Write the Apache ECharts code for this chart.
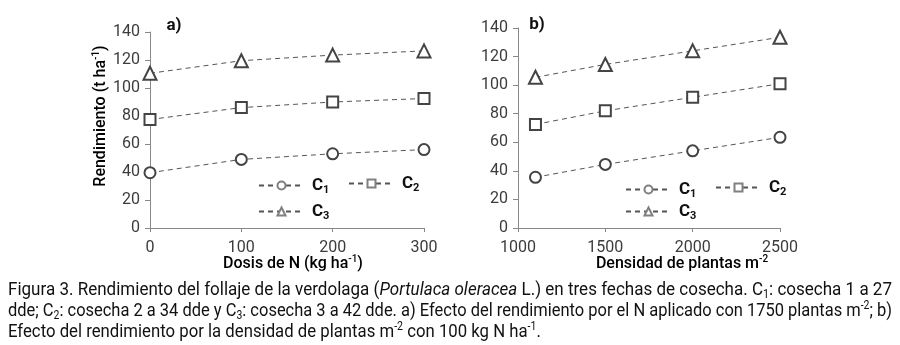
<!DOCTYPE html>
<html>
<head>
<meta charset="utf-8">
<script src="https://cdn.jsdelivr.net/npm/echarts@6/dist/echarts.min.js"></script>
<style>
  html, body { margin: 0; padding: 0; background: #fff; }
  #chart { width: 900px; height: 345px; }
</style>
</head>
<body>
<div id="chart"></div>
<script>
// datos
const doseN = [0, 100, 200, 300]
const aC1 = [39.5, 49, 53, 56]
const aC2 = [77.5, 86, 90, 92.5]
const aC3 = [110.5, 119.5, 123.5, 126.5]

const density = [1100, 1500, 2000, 2500]
const bC1 = [35.5, 44.5, 54, 63.5]
const bC2 = [72.5, 82, 91.5, 101]
const bC3 = [105.5, 114.5, 124, 133.5]

const seriesNames = ['C1', 'C2', 'C3']
const symbols = ['emptyCircle', 'emptyRect', 'emptyTriangle']
const symbolSizes = [11, 11, 13]

const FONT = 'Roboto'
const chart = echarts.init(document.getElementById('chart'))

function pairs(xs, ys) {
  return xs.map((x, i) => [x, ys[i]])
}

function makeSeries(idx, xs, ys, k) {
  return {
    name: seriesNames[k],
    type: 'line',
    xAxisIndex: idx,
    yAxisIndex: idx,
    data: pairs(xs, ys),
    symbol: symbols[k],
    symbolSize: symbolSizes[k],
    showSymbol: true,
    silent: true,
    lineStyle: { color: '#555', width: 1, type: [5, 4] },
    itemStyle: { color: '#444', borderColor: '#444', borderWidth: 1 }
  }
}

function yAxis(idx) {
  return {
    type: 'value',
    gridIndex: idx,
    min: 0,
    max: 140,
    interval: 20,
    axisLine: { show: true, lineStyle: { color: '#888' } },
    axisTick: { show: true, length: 5, lineStyle: { color: '#888' } },
    splitLine: { show: false },
    axisLabel: { color: '#3c3c3c', fontFamily: FONT, fontSize: 16, margin: 10 }
  }
}

function xAxis(idx, min, max, interval) {
  return {
    type: 'value',
    gridIndex: idx,
    min: min,
    max: max,
    interval: interval,
    axisLine: { show: true, lineStyle: { color: '#888' } },
    axisTick: { show: true, length: 4, lineStyle: { color: '#888' } },
    splitLine: { show: false },
    axisLabel: { color: '#3c3c3c', fontFamily: FONT, fontSize: 16, margin: 12, formatter: (v) => String(v) }
  }
}

const legendRich = {
  c: { fontFamily: FONT, fontSize: 17, fontWeight: 'bold', color: '#111', lineHeight: 20 },
  s: { fontFamily: FONT, fontSize: 11, fontWeight: 'bold', color: '#111', verticalAlign: 'bottom', lineHeight: 12 }
}

function legendItem(name, left, top) {
  return {
    data: [name],
    left: left,
    top: top,
    itemWidth: 45,
    itemHeight: 10,
    itemGap: 0,
    selectedMode: false,
    // el icono vacio toma este color como borde
    itemStyle: { color: '#808080' },
    formatter: (n) => '{c|C}{s|' + n.slice(1) + '}',
    textStyle: { rich: legendRich, padding: [0, 0, 0, 3] }
  }
}

// leyenda interior (posiciones de la figura)
const legends = [
  legendItem('C1', 253, 172),
  legendItem('C2', 343, 170),
  legendItem('C3', 253, 198),
  legendItem('C1', 620, 176),
  legendItem('C2', 710, 174),
  legendItem('C3', 620, 198)
]

const captionRich = {
  i: { fontFamily: FONT, fontSize: 19, fontStyle: 'italic', color: '#111', lineHeight: 22 },
  sub: { fontFamily: FONT, fontSize: 12, color: '#111', verticalAlign: 'bottom', lineHeight: 12 },
  sup: { fontFamily: FONT, fontSize: 12, color: '#111', verticalAlign: 'top', lineHeight: 12 }
}
const captionLines = [
  'Figura 3. Rendimiento del follaje de la verdolaga ({i|Portulaca oleracea} L.) en tres fechas de cosecha. C{sub|1}: cosecha 1 a 27',
  'dde; C{sub|2}: cosecha 2 a 34 dde y C{sub|3}: cosecha 3 a 42 dde. a) Efecto del rendimiento por el N aplicado con 1750 plantas m{sup|-2}; b)',
  'Efecto del rendimiento por la densidad de plantas m{sup|-2} con 100 kg N ha{sup|-1}.'
]

function textWidth(text, size, weight, rich) {
  const t = new echarts.graphic.Text({
    style: { text: text, fontFamily: FONT, fontSize: size, fontWeight: weight || 'normal', rich: rich || {}, lineHeight: 22 }
  })
  return t.getBoundingRect().width
}

// el pie de figura usa una letra estrecha: se comprime en x
const w1 = textWidth(captionLines[0], 19, 'normal', captionRich)
const w2 = textWidth(captionLines[1], 19, 'normal', captionRich)
const sc1 = 884 / w1
const sc2 = 884 / w2
const sc3 = (sc1 + sc2) / 2

function captionText(line, y, sc) {
  return {
    type: 'text',
    x: 8,
    y: y,
    scaleX: sc,
    silent: true,
    style: {
      text: line,
      fontFamily: FONT,
      fontSize: 19,
      lineHeight: 22,
      fill: '#111',
      rich: captionRich,
      verticalAlign: 'middle'
    }
  }
}

const titleRich = {
  t: { fontFamily: FONT, fontSize: 16, fontWeight: 500, color: '#111', lineHeight: 20 },
  sup: { fontFamily: FONT, fontSize: 10, fontWeight: 500, color: '#111', verticalAlign: 'top', lineHeight: 10 }
}

function titleText(text, x, y, rot) {
  return {
    type: 'text',
    x: x,
    y: y,
    rotation: rot || 0,
    silent: true,
    style: {
      text: text,
      rich: titleRich,
      align: 'center',
      verticalAlign: 'middle'
    }
  }
}

const graphics = [
  titleText('{t|Rendimiento (t ha}{sup|-1}{t|)}', 101, 116, Math.PI / 2),
  titleText('{t|Dosis de N (kg ha}{sup|-1}{t|)}', 293, 264),
  titleText('{t|Densidad de plantas m}{sup|-2}', 682, 264),
  { type: 'text', x: 174, y: 26, silent: true,
    style: { text: 'a)', fontFamily: FONT, fontSize: 17, fontWeight: 'bold', fill: '#111', align: 'center', verticalAlign: 'middle' } },
  { type: 'text', x: 537, y: 25, silent: true,
    style: { text: 'b)', fontFamily: FONT, fontSize: 17, fontWeight: 'bold', fill: '#111', align: 'center', verticalAlign: 'middle' } },
  captionText(captionLines[0], 290, sc1),
  captionText(captionLines[1], 311, sc2),
  captionText(captionLines[2], 332, sc3)
]

const option = {
  backgroundColor: '#fff',
  animation: false,
  grid: [
    { left: 150, top: 32, right: 476, bottom: 117 },
    { left: 518, top: 28, right: 120, bottom: 117 }
  ],
  xAxis: [xAxis(0, 0, 300, 100), xAxis(1, 1000, 2500, 500)],
  yAxis: [yAxis(0), yAxis(1)],
  legend: legends,
  graphic: graphics,
  series: [
    makeSeries(0, doseN, aC1, 0),
    makeSeries(0, doseN, aC2, 1),
    makeSeries(0, doseN, aC3, 2),
    makeSeries(1, density, bC1, 0),
    makeSeries(1, density, bC2, 1),
    makeSeries(1, density, bC3, 2)
  ]
}

chart.setOption(option)
</script>
</body>
</html>
